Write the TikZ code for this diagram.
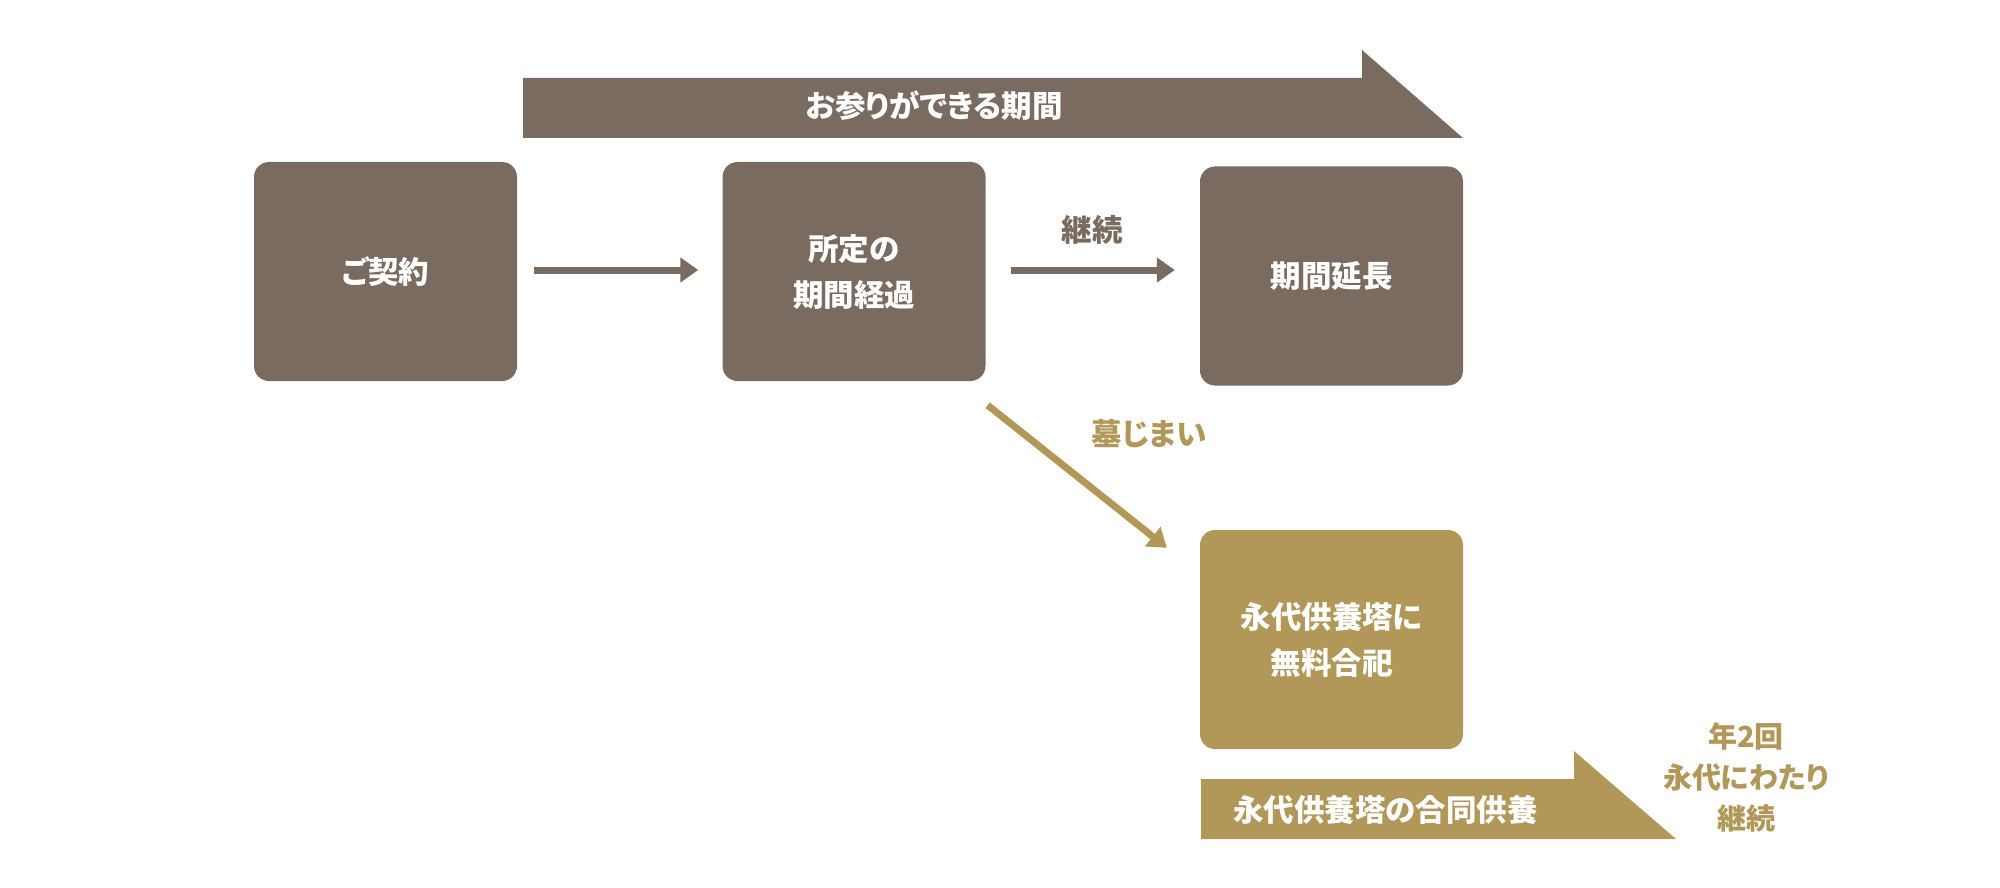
\documentclass[tikz,border=0pt]{standalone}
\usepackage{fontspec}
\setmainfont{Noto Sans CJK JP}[RawFeature=+palt]
\usetikzlibrary{arrows.meta}
\definecolor{brn}{HTML}{7A6B61}
\definecolor{gld}{HTML}{B19858}
\begin{document}
\begin{tikzpicture}[x=1pt,y=-1pt,
  box/.style={rounded corners=15pt, minimum width=263pt, minimum height=219pt, inner sep=0pt,
    text=white, align=center, font=\fontsize{30.5}{46}\selectfont\bfseries},
  lbl/.style={inner sep=0pt, align=center, font=\fontsize{30.5}{41}\selectfont\bfseries},
  conn/.style={line width=7pt, -{Triangle[length=18pt,width=24pt]}}
]
\useasboundingbox (0,0) rectangle (2000,888);
% top banner
\fill[brn] (523,78) -- (1362,78) -- (1362,50) -- (1463,138) -- (523,138) -- cycle;
\node[lbl, text=white] (tb) at (934,106) {お参りができる期間};
% boxes
\node[box, fill=brn] (b1) at (385.5,271.5) {ご契約};
\node[box, fill=brn] (b2) at (854,271.5) {所定の\\期間経過};
\node[box, fill=brn] (b3) at (1331.5,276) {期間延長};
\node[box, fill=gld] (b4) at (1331.5,639.5) {永代供養塔に\\無料合祀};
% arrows
\draw[conn, brn, shorten <=17pt, shorten >=24pt] (b1.east |- 0,270) -- (b2.west |- 0,270);
\draw[conn, brn, shorten <=25pt, shorten >=25pt] (b2.east |- 0,270) -- (b3.west |- 0,270);
\node[lbl, text=brn] (l1) at (1092,230) {継続};
\draw[conn, gld] ([shift={(2,24)}]b2.south east) -- ([shift={(-33,18)}]b4.north west);
\node[lbl, text=gld] (l2) at (1149,434) {墓じまい};
% bottom banner
\fill[gld] (1201,779) -- (1574,779) -- (1574,751) -- (1676,839) -- (1201,839) -- cycle;
\node[lbl, text=white] (bb) at (1385.5,810) {永代供養塔の合同供養};
\node[lbl, text=gld, font=\fontsize{29}{41}\selectfont\bfseries] (rt) at (1746,777) {年2回\\永代にわたり\\継続};
\end{tikzpicture}
\end{document}
